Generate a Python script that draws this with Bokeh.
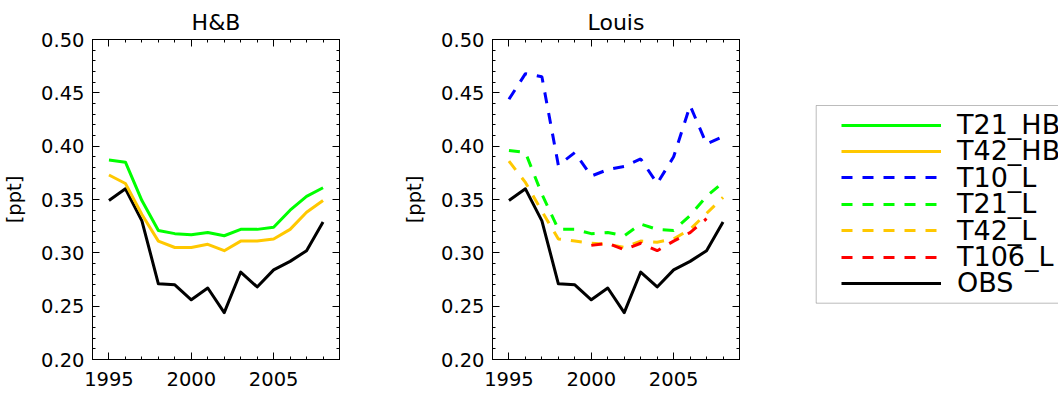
from bokeh.plotting import figure
from bokeh.layouts import row
from bokeh.models import (Range1d, FixedTicker, LinearAxis, Legend, LegendItem,
                          BoxAnnotation, NumeralTickFormatter, CustomJSTickFormatter)
from bokeh.embed import file_html
from bokeh.resources import INLINE

# ---------------- data ----------------
years = [1995, 1996, 1997, 1998, 1999, 2000, 2001, 2002, 2003, 2004, 2005, 2006, 2007, 2008]
years_t106 = [2000, 2001, 2002, 2003, 2004, 2005, 2006, 2007]

obs    = [0.349, 0.360, 0.330, 0.271, 0.270, 0.256, 0.267, 0.244, 0.282, 0.268, 0.284, 0.292, 0.302, 0.329]
t21_hb = [0.387, 0.385, 0.349, 0.321, 0.318, 0.317, 0.319, 0.316, 0.322, 0.322, 0.324, 0.340, 0.353, 0.361]
t42_hb = [0.373, 0.365, 0.336, 0.311, 0.305, 0.305, 0.308, 0.302, 0.311, 0.311, 0.313, 0.322, 0.338, 0.349]
t10_l  = [0.444, 0.468, 0.465, 0.382, 0.394, 0.372, 0.378, 0.381, 0.388, 0.365, 0.390, 0.438, 0.402, 0.409]
t21_l  = [0.396, 0.394, 0.355, 0.322, 0.322, 0.318, 0.319, 0.316, 0.327, 0.322, 0.321, 0.335, 0.353, 0.366]
t42_l  = [0.386, 0.366, 0.339, 0.313, 0.311, 0.309, 0.308, 0.305, 0.311, 0.310, 0.313, 0.322, 0.337, 0.352]
t106_l = [0.307, 0.309, 0.303, 0.309, 0.302, 0.311, 0.319, 0.332]

panel_titles = ["H&B", "Louis"]
legend_labels = ["T21_HB", "T42_HB", "T10_L", "T21_L", "T42_L", "T106_L", "OBS"]
y_label = "[ppt]"

x_major = [1995, 2000, 2005]
x_minor = [1994, 1995, 1996, 1997, 1998, 1999, 2000, 2001, 2002, 2003, 2004,
           2005, 2006, 2007, 2008, 2009]
y_major = [0.20, 0.25, 0.30, 0.35, 0.40, 0.45, 0.50]
y_minor = [round(0.20 + 0.01 * i, 2) for i in range(31)]

# ---------------- styles ----------------
FONT = "DejaVu Sans"
GREEN = "#00ff00"
ORANGE = "#ffc800"
BLUE = "#0000ff"
RED = "#ff0000"
BLACK = "#000000"
DASH = "11 10"
LW = 3
TICK_FONT = "19.5px"


def style_axis(ax, show_labels):
    ax.axis_line_color = "black"
    ax.axis_line_width = 1
    ax.major_tick_in = 7
    ax.major_tick_out = 0
    ax.minor_tick_in = 3
    ax.minor_tick_out = 0
    ax.major_tick_line_color = "black"
    ax.minor_tick_line_color = "black"
    ax.major_label_text_font = FONT
    ax.major_label_text_color = "black"
    if show_labels:
        ax.major_label_text_font_size = TICK_FONT
    else:
        # mirrored axis: ticks only, labels blank
        ax.formatter = CustomJSTickFormatter(code="return ''")
        ax.major_label_text_font_size = "1px"
        ax.major_label_standoff = 0


def make_panel(title):
    p = figure(width=400, height=395,
               x_range=Range1d(1994, 2009), y_range=Range1d(0.20, 0.50),
               output_backend="svg", toolbar_location=None,
               min_border_left=92, min_border_right=61,
               min_border_top=39, min_border_bottom=36,
               title=title)
    p.title.text_font = FONT
    p.title.text_font_size = "22px"
    p.title.text_font_style = "normal"
    p.title.align = "center"
    p.title.text_color = "black"
    p.xgrid.visible = False
    p.ygrid.visible = False
    p.outline_line_color = "black"

    xt = FixedTicker(ticks=x_major, minor_ticks=x_minor)
    yt = FixedTicker(ticks=y_major, minor_ticks=y_minor)

    xa = p.xaxis[0]
    xa.ticker = xt
    style_axis(xa, True)
    xa.major_label_standoff = 12

    ya = p.yaxis[0]
    ya.ticker = yt
    ya.formatter = NumeralTickFormatter(format="0.00")
    style_axis(ya, True)
    ya.major_label_standoff = 8
    ya.axis_label = y_label
    ya.axis_label_text_font = FONT
    ya.axis_label_text_font_size = TICK_FONT
    ya.axis_label_text_font_style = "normal"
    ya.axis_label_text_color = "black"
    ya.axis_label_standoff = 12

    top = LinearAxis(ticker=xt)
    style_axis(top, False)
    p.add_layout(top, "above")
    right = LinearAxis(ticker=yt)
    style_axis(right, False)
    p.add_layout(right, "right")
    return p


# ---------------- left panel ----------------
p1 = make_panel(panel_titles[0])
p1.line(years, obs, line_color=BLACK, line_width=LW, line_join="round")
p1.line(years, t21_hb, line_color=GREEN, line_width=LW, line_join="round")
p1.line(years, t42_hb, line_color=ORANGE, line_width=LW, line_join="round")

# ---------------- right panel ----------------
p2 = make_panel(panel_titles[1])
p2.line(years, obs, line_color=BLACK, line_width=LW, line_join="round")
p2.line(years, t10_l, line_color=BLUE, line_width=LW, line_dash=DASH)
p2.line(years, t21_l, line_color=GREEN, line_width=LW, line_dash=DASH)
p2.line(years, t42_l, line_color=ORANGE, line_width=LW, line_dash=DASH)
p2.line(years_t106, t106_l, line_color=RED, line_width=LW, line_dash=DASH)

# ---------------- legend panel ----------------
# frame spans screen y 39..359 (aligned with the other panels); y data = 395 - screen y
FRAME_BOTTOM = 359
pl = figure(width=258, height=395, x_range=Range1d(0, 258), y_range=Range1d(36, 356),
            output_backend="svg", toolbar_location=None,
            min_border_left=0, min_border_right=0, min_border_top=39, min_border_bottom=36,
            x_axis_location=None, y_axis_location=None)
pl.outline_line_color = None
pl.xgrid.visible = False
pl.ygrid.visible = False

series = [(years, t21_hb, GREEN, "solid"), (years, t42_hb, ORANGE, "solid"),
          (years, t10_l, BLUE, DASH), (years, t21_l, GREEN, DASH),
          (years, t42_l, ORANGE, DASH), (years_t106, t106_l, RED, DASH),
          (years, obs, BLACK, "solid")]

box = BoxAnnotation(left=15.7, right=400, bottom=92.3, top=290,
                    fill_color=None, fill_alpha=0, line_color="#222222", line_width=1)
pl.add_layout(box)

ROW0 = 124.5      # screen y of first legend row centre
PITCH = 26.4      # row spacing in px
ITEM_H = 31       # rendered height of one legend entry
for i, (lab, (xs, ys, col, dash)) in enumerate(zip(legend_labels, series)):
    r = pl.line(xs, ys, line_color=col, line_width=LW, line_dash=dash, visible=False)
    centre = ROW0 + PITCH * i
    vy = FRAME_BOTTOM - (centre + ITEM_H / 2)
    leg = Legend(items=[LegendItem(label=lab, renderers=[r])], location=(41, vy),
                 padding=0, spacing=0, margin=0,
                 glyph_width=100, glyph_height=26, label_height=26,
                 label_standoff=16, label_text_font=FONT, label_text_font_size="27px",
                 label_text_color="black",
                 border_line_color=None, background_fill_alpha=0)
    pl.add_layout(leg)

layout = row(p1, p2, pl)
open("out.html", "w").write(file_html(layout, INLINE))
